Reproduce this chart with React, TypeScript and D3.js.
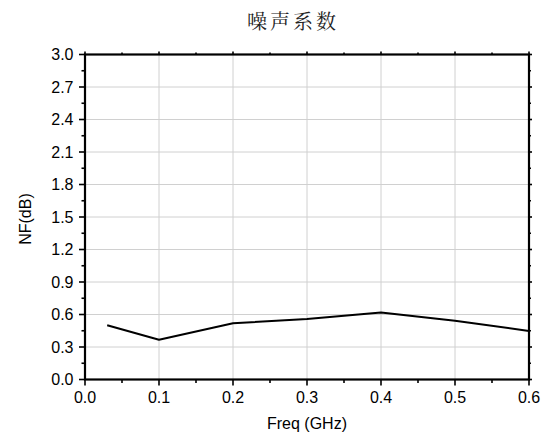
import React from "react";
import * as d3 from "d3";

const freq = [0.03, 0.1, 0.2, 0.3, 0.4, 0.5, 0.6];
const nf = [0.5, 0.367, 0.52, 0.558, 0.618, 0.543, 0.448];
const xTicks = [0, 0.1, 0.2, 0.3, 0.4, 0.5, 0.6];
const yTicks = [0, 0.3, 0.6, 0.9, 1.2, 1.5, 1.8, 2.1, 2.4, 2.7, 3.0];
const xMinor = [0.05, 0.15, 0.25, 0.35, 0.45, 0.55];
const yMinor = [0.15, 0.45, 0.75, 1.05, 1.35, 1.65, 1.95, 2.25, 2.55, 2.85];

const W = 549, H = 437;
const L = 85, R = 529, T = 54.5, B = 379.5;

export default function App() {
  const x = d3.scaleLinear().domain([0, 0.6]).range([L, R]);
  const y = d3.scaleLinear().domain([0, 3]).range([B, T]);
  const line = d3.line<number>().x((_, i) => x(freq[i])).y((d) => y(d));
  const font = "'Liberation Sans', Arial, sans-serif";
  return (
    <svg width={W} height={H} style={{ position: "absolute", left: 0, top: 0 }}>
      <rect width={W} height={H} fill="#fff" />
      <text x={293} y={29} textAnchor="middle" fontFamily="'Noto Serif CJK SC','Noto Sans CJK SC',serif" fontSize={20} letterSpacing={3} fill="#222">噪声系数</text>
      {xTicks.slice(1, -1).map((t) => (
        <line key={"gx" + t} x1={x(t)} x2={x(t)} y1={T} y2={B} stroke="#d0d0d0" strokeWidth={1} />
      ))}
      {yTicks.slice(1, -1).map((t) => (
        <line key={"gy" + t} x1={L} x2={R} y1={y(t)} y2={y(t)} stroke="#d0d0d0" strokeWidth={1} />
      ))}
      <path d={line(nf) || ""} fill="none" stroke="#000" strokeWidth={2} strokeLinejoin="round" />
      <rect x={L} y={T} width={R - L} height={B - T} fill="none" stroke="#000" strokeWidth={2.2} />
      {xTicks.map((t) => (
        <g key={"xt" + t}>
          <line x1={x(t)} x2={x(t)} y1={B} y2={B + 6} stroke="#000" strokeWidth={1.6} />
          <line x1={x(t)} x2={x(t)} y1={T} y2={T - 3} stroke="#000" strokeWidth={1.6} />
          <text x={x(t)} y={B + 23.5} textAnchor="middle" fontFamily={font} fontSize={16} fill="#000">{t.toFixed(1)}</text>
        </g>
      ))}
      {xMinor.map((t) => (
        <g key={"xm" + t}>
          <line x1={x(t)} x2={x(t)} y1={B} y2={B + 3.5} stroke="#000" strokeWidth={1.6} />
          <line x1={x(t)} x2={x(t)} y1={T} y2={T - 2} stroke="#000" strokeWidth={1.6} />
        </g>
      ))}
      {yTicks.map((t) => (
        <g key={"yt" + t}>
          <line x1={L} x2={L - 6} y1={y(t)} y2={y(t)} stroke="#000" strokeWidth={1.6} />
          <line x1={R} x2={R + 3} y1={y(t)} y2={y(t)} stroke="#000" strokeWidth={1.6} />
          <text x={L - 11.5} y={y(t) + 5.5} textAnchor="end" fontFamily={font} fontSize={16} fill="#000">{t.toFixed(1)}</text>
        </g>
      ))}
      {yMinor.map((t) => (
        <g key={"ym" + t}>
          <line x1={L} x2={L - 3.5} y1={y(t)} y2={y(t)} stroke="#000" strokeWidth={1.6} />
          <line x1={R} x2={R + 2} y1={y(t)} y2={y(t)} stroke="#000" strokeWidth={1.6} />
        </g>
      ))}
      <text x={(L + R) / 2} y={429} textAnchor="middle" fontFamily={font} fontSize={16} fill="#000">Freq (GHz)</text>
      <text transform={`translate(31,219) rotate(-90)`} textAnchor="middle" fontFamily={font} fontSize={16} fill="#000">NF(dB)</text>
    </svg>
  );
}
